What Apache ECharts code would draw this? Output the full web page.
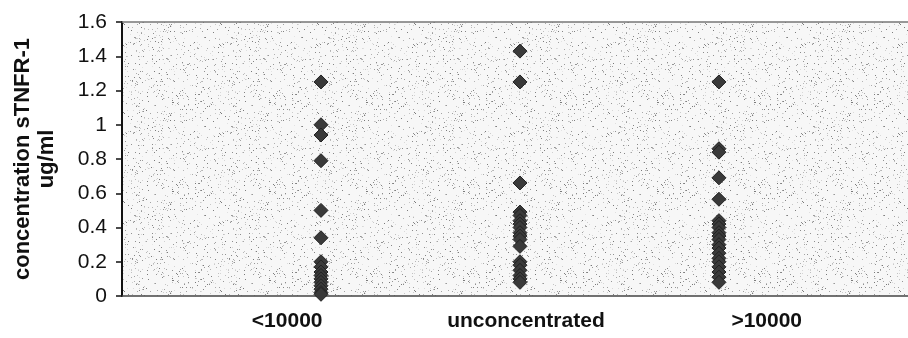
<!DOCTYPE html>
<html>
<head>
<meta charset="utf-8">
<script src="https://cdn.jsdelivr.net/npm/echarts@6/dist/echarts.min.js"></script>
<style>
  html, body { margin: 0; padding: 0; background: #fff; }
  #chart { width: 908px; height: 338px; }
</style>
</head>
<body>
<div id="chart"></div>
<script>
// groups and measured concentrations (ug/ml)
const categories = ["<10000", "unconcentrated", ">10000"];
const below10000 = [1.25, 1.0, 0.94, 0.79, 0.5, 0.34, 0.2, 0.17, 0.14, 0.12, 0.1, 0.08, 0.06, 0.04, 0.02, 0.01];
const unconcentrated = [1.43, 1.25, 0.66, 0.49, 0.47, 0.44, 0.42, 0.4, 0.37, 0.35, 0.33, 0.29, 0.2, 0.18, 0.15, 0.12, 0.1, 0.08];
const above10000 = [1.25, 0.86, 0.84, 0.69, 0.565, 0.44, 0.42, 0.4, 0.37, 0.35, 0.33, 0.3, 0.28, 0.25, 0.22, 0.2, 0.17, 0.14, 0.11, 0.08];
const yTicks = [0, 0.2, 0.4, 0.6, 0.8, 1, 1.2, 1.4, 1.6];

// where the category captions sit along the x scale (layout only)
const captionAt = [0.83, 2.03, 3.24];
const xMax = 3.95;

const groups = [below10000, unconcentrated, above10000];
const points = [];
groups.forEach((vals, i) => vals.forEach(v => points.push([i + 1, v])));

// speckled plot background like the scanned original
function speckle() {
  const c = document.createElement("canvas");
  c.width = 97; c.height = 89;
  const ctx = c.getContext("2d");
  ctx.fillStyle = "#f7f7f7";
  ctx.fillRect(0, 0, c.width, c.height);
  let s = 12345;
  const next = () => (s = (s * 1103515245 + 12345) % 2147483648) / 2147483648;
  for (let k = 0; k < 520; k++) {
    const g = Math.floor(120 + next() * 110);
    ctx.fillStyle = "rgb(" + g + "," + g + "," + g + ")";
    ctx.fillRect(Math.floor(next() * c.width), Math.floor(next() * c.height), 1, 1);
  }
  return c;
}

const chart = echarts.init(document.getElementById("chart"), null, { renderer: "canvas" });
const font = "'Liberation Sans', Arial, sans-serif";

chart.setOption({
  animation: false,
  backgroundColor: "#fff",
  grid: {
    left: 122, top: 22, right: 0, bottom: 42,
    show: true,
    borderWidth: 0,
    backgroundColor: { image: speckle(), repeat: "repeat" }
  },
  xAxis: [
    {
      type: "value", min: 0, max: xMax, position: "bottom",
      axisLine: { show: true, lineStyle: { color: "#444", width: 1.5 } },
      axisTick: { show: false }, axisLabel: { show: false }, splitLine: { show: false }
    },
    {
      type: "value", min: 0, max: xMax, position: "bottom",
      axisLine: { show: false }, axisTick: { show: false }, splitLine: { show: false },
      axisLabel: {
        customValues: captionAt,
        formatter: v => categories[captionAt.indexOf(v)] || "",
        color: "#111", fontFamily: font, fontSize: 21, fontWeight: "bold", margin: 15
      }
    },
    {
      type: "value", min: 0, max: xMax, position: "top",
      axisLine: { show: true, lineStyle: { color: "#777", width: 1.5 } },
      axisTick: { show: false }, axisLabel: { show: false }, splitLine: { show: false }
    }
  ],
  yAxis: {
    type: "value", min: yTicks[0], max: yTicks[yTicks.length - 1], interval: 0.2,
    name: "concentration sTNFR-1\nug/ml",
    nameLocation: "middle",
    nameGap: 63,
    nameTextStyle: { color: "#111", fontFamily: font, fontSize: 22, fontWeight: "bold", lineHeight: 24 },
    axisLine: { show: true, lineStyle: { color: "#111", width: 2 } },
    axisTick: { show: true, inside: false, length: 6, lineStyle: { color: "#111", width: 1.5 } },
    axisLabel: { color: "#111", fontFamily: font, fontSize: 21, margin: 15 },
    splitLine: { show: false }
  },
  series: [{
    type: "scatter",
    xAxisIndex: 0,
    symbol: "diamond",
    symbolSize: 14,
    itemStyle: { color: "#3a3a3a", borderColor: "#222", borderWidth: 1, opacity: 1 },
    data: points
  }]
});
</script>
</body>
</html>
